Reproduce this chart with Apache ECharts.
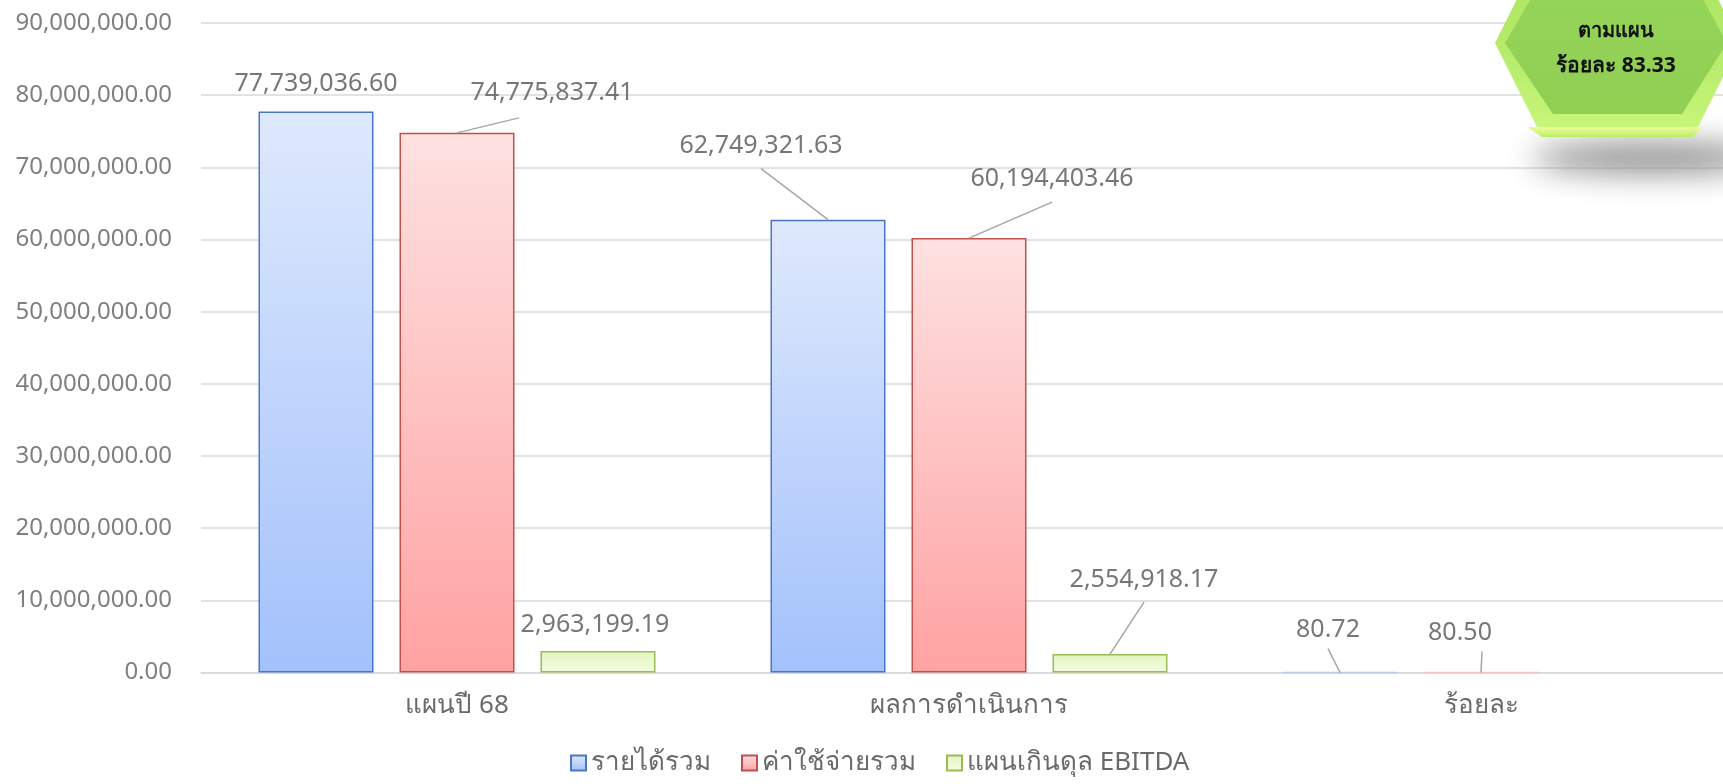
<!DOCTYPE html>
<html><head><meta charset="utf-8">
<script src="https://cdn.jsdelivr.net/npm/echarts@6/dist/echarts.min.js"></script>
<style>html,body{margin:0;padding:0;background:#fff}#c{width:1723px;height:784px}</style>
</head><body><div id="c"></div>
<script>
const categories = ['แผนปี 68', 'ผลการดำเนินการ', 'ร้อยละ'];
const seriesNames = ['รายได้รวม', 'ค่าใช้จ่ายรวม', 'แผนเกินดุล EBITDA'];
const revenue = [77739036.60, 62749321.63, 80.72];
const expense = [74775837.41, 60194403.46, 80.50];
const ebitda = [2963199.19, 2554918.17, null];
const yMax = 90000000;
const yInterval = 10000000;
const badgeLines = ['ตามแผน', 'ร้อยละ 83.33'];

// label placement (pixel offsets) and leader-line start (relative to label bottom centre)
const labelOffsets = [
  [[0, -10], [-67, -56], [-12, -24]],
  [[95, -22], [83, -42], [-21, -21]],
  [[-3, -9], [34, -57], [0, 0]]
];
const leaderStart = [
  [null, [0, 10], [0, 5]],
  [[-33, 12], [0, 11], [22, 5]],
  [null, [0, 10], null]
];

const FONT = '"Noto Sans", "DejaVu Sans", sans-serif';
const BAR_W = 115, BAR_GAP = 26, LABEL_DIST = 5;
const fmt = v => Number(v).toLocaleString('en-US', {minimumFractionDigits: 2, maximumFractionDigits: 2});

const styles = [
  {top: '#dee9fd', bottom: '#a3c1fb', border: '#4a76c4', thin: '#b9cde8'},
  {top: '#fee1e1', bottom: '#ffa2a2', border: '#c0504d', thin: '#f2c4c4'},
  {top: '#e2f4c0', bottom: '#f4fde0', border: '#9bbb59', thin: '#d7e8b8'}
];
const allValues = [revenue, expense, ebitda];

function grad(s) {
  return new echarts.graphic.LinearGradient(0, 0, 0, 1, [
    {offset: 0, color: s.top}, {offset: 1, color: s.bottom}
  ]);
}

function buildSeries(idx, values) {
  const s = styles[idx];
  return {
    name: seriesNames[idx],
    type: 'bar',
    barWidth: BAR_W,
    barGap: (BAR_GAP / BAR_W * 100) + '%',
    itemStyle: {color: grad(s), borderColor: s.border, borderWidth: 1.5},
    label: {
      show: true, position: 'top', distance: LABEL_DIST,
      fontFamily: FONT, fontSize: 25, color: '#777777',
      formatter: p => p.value == null ? '' : fmt(p.value)
    },
    labelLayout: p => ({dx: labelOffsets[idx][p.dataIndex][0], dy: labelOffsets[idx][p.dataIndex][1]}),
    data: values.map((v, i) => {
      const item = {value: v};
      if (i === 2) item.itemStyle = {borderColor: s.thin};
      return item;
    })
  };
}

// leader lines: one record per (series, category) that has a line
const leaderData = [];
allValues.forEach((vals, s) => vals.forEach((v, c) => {
  if (v != null && leaderStart[s][c]) leaderData.push([c, v, s]);
}));

const leaderSeries = {
  type: 'custom',
  silent: true,
  z: 5,
  encode: {x: 0, y: 1},
  data: leaderData,
  renderItem: (params, api) => {
    const c = api.value(0), v = api.value(1), s = api.value(2);
    const p = api.coord([c, v]);
    const bx = p[0] + (s - 1) * (BAR_W + BAR_GAP);
    const by = p[1];
    const off = labelOffsets[s][c], st = leaderStart[s][c];
    const sx = bx + off[0] + st[0];
    const sy = by - LABEL_DIST + off[1] + st[1];
    return {type: 'line', shape: {x1: sx, y1: sy, x2: bx, y2: by},
      style: {stroke: '#a6a6a6', lineWidth: 1.5}};
  }
};

const chart = echarts.init(document.getElementById('c'));
chart.setOption({
  animation: false,
  textStyle: {fontFamily: FONT},
  grid: {left: 201, right: -14, top: 23, bottom: 111.5, containLabel: false, outerBoundsMode: 'none'},
  legend: {
    data: seriesNames, bottom: 3, left: 565, icon: 'rect',
    itemWidth: 15, itemHeight: 15, itemGap: 30,
    textStyle: {fontFamily: FONT, fontSize: 26, color: '#6a6a6a'}
  },
  xAxis: {
    type: 'category', data: categories,
    axisLine: {lineStyle: {color: '#d9d9d9', width: 1.5}},
    axisTick: {show: false},
    axisLabel: {fontFamily: FONT, fontSize: 26, color: '#6a6a6a', margin: 20}
  },
  yAxis: {
    type: 'value', min: 0, max: yMax, interval: yInterval,
    axisLine: {show: false}, axisTick: {show: false},
    splitLine: {lineStyle: {color: '#d9d9d9', width: 1.5}},
    axisLabel: {fontFamily: FONT, fontSize: 24, color: '#7f7f7f', margin: 29, formatter: v => fmt(v)}
  },
  series: [buildSeries(0, revenue), buildSeries(1, expense), buildSeries(2, ebitda), leaderSeries],
  graphic: [
    {type: 'ellipse', shape: {cx: 1650, cy: -842, rx: 118, ry: 16}, z: 100,
     style: {fill: '#999', shadowBlur: 30, shadowOffsetY: 1000, shadowColor: 'rgba(140,140,140,0.95)'}},
    {type: 'polygon', z: 101,
     shape: {points: [[1495, 43], [1542, 137], [1693, 137], [1740, 43], [1693, -51], [1542, -51]]},
     style: {fill: new echarts.graphic.LinearGradient(0, 0, 0, 1, [
       {offset: 0, color: '#a9e35e'}, {offset: 0.6, color: '#b8ec6c'}, {offset: 1, color: '#c9f77c'}])}},
    {type: 'polygon', z: 102,
     shape: {points: [[1527, 127], [1702, 127], [1693, 137], [1542, 137]]},
     style: {fill: new echarts.graphic.LinearGradient(0, 0, 0, 1, [
       {offset: 0, color: '#eefc9c'}, {offset: 1, color: '#b9ee66'}])}},
    {type: 'polygon', z: 103,
     shape: {points: [[1505, 43], [1553, 114], [1682, 114], [1727, 43], [1682, -39], [1553, -39]]},
     style: {fill: new echarts.graphic.LinearGradient(0, 0, 0, 1, [
       {offset: 0, color: '#95d55a'}, {offset: 1, color: '#90cf52'}])}},
    {type: 'text', z: 104, x: 1616, y: 31,
     style: {text: badgeLines[0], fontFamily: FONT, fontSize: 20, fontWeight: 'bold', fill: '#111', align: 'center', verticalAlign: 'middle'}},
    {type: 'text', z: 104, x: 1616, y: 66,
     style: {text: badgeLines[1], fontFamily: FONT, fontSize: 21, fontWeight: 'bold', fill: '#111', align: 'center', verticalAlign: 'middle'}}
  ]
});
</script></body></html>
